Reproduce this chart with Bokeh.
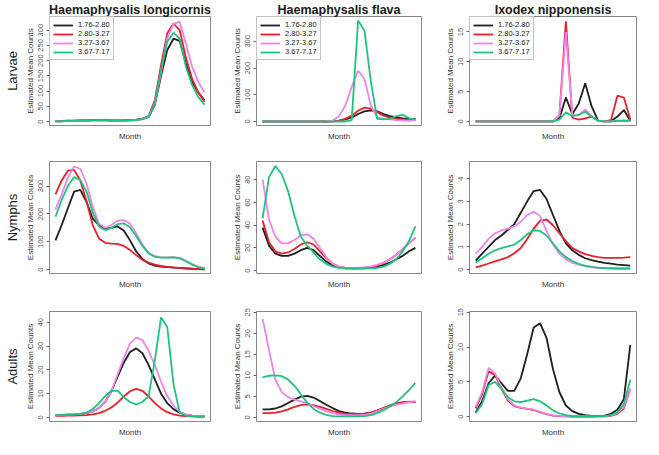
from bokeh.plotting import figure
from bokeh.layouts import column, row
from bokeh.models import Range1d, FixedTicker, Title
from bokeh.embed import file_html
from bokeh.resources import INLINE

# ---------------- data ----------------
MONTH = [1.0, 1.5, 2.0, 2.5, 3.0, 3.5, 4.0, 4.5, 5.0, 5.5, 6.0, 6.5, 7.0,
         7.5, 8.0, 8.5, 9.0, 9.5, 10.0, 10.5, 11.0, 11.5, 12.0, 12.5, 13.0]
GROUPS = ["1.76-2.80", "2.80-3.27", "3.27-3.67", "3.67-7.17"]
SPECIES = ["Haemaphysalis longicornis", "Haemaphysalis flava", "Ixodex nipponensis"]
STAGES = ["Larvae", "Nymphs", "Adults"]

# Larvae - H. longicornis
LAR_HL_1 = [2, 2, 3, 3, 4, 4, 5, 5, 5, 4, 4, 4, 5, 6, 9, 15, 55, 150, 235, 272, 265, 190, 130, 95, 70]
LAR_HL_2 = [1, 1, 2, 2, 3, 3, 4, 4, 4, 3, 3, 3, 4, 5, 9, 18, 70, 185, 290, 322, 300, 210, 140, 95, 65]
LAR_HL_3 = [1, 1, 2, 2, 3, 3, 4, 4, 4, 3, 3, 3, 4, 5, 8, 15, 60, 160, 275, 320, 328, 255, 180, 130, 95]
LAR_HL_4 = [1, 1, 2, 2, 3, 3, 4, 4, 4, 3, 3, 3, 4, 5, 8, 15, 60, 170, 262, 292, 272, 180, 120, 80, 55]
# Larvae - H. flava
LAR_HF_1 = [0, 0, 0, 0, 0, 0, 0, 0, 0, 0, 0, 1, 3, 8, 15, 28, 38, 42, 38, 28, 20, 15, 12, 10, 10]
LAR_HF_2 = [0, 0, 0, 0, 0, 0, 0, 0, 0, 0, 0, 0, 3, 10, 22, 40, 52, 48, 35, 22, 14, 10, 8, 6, 5]
LAR_HF_3 = [0, 0, 0, 0, 0, 0, 0, 0, 0, 0, 1, 3, 20, 60, 130, 190, 160, 60, 15, 10, 8, 5, 4, 3, 5]
LAR_HF_4 = [0, 0, 0, 0, 0, 0, 0, 0, 0, 0, 0, 0, 0, 0, 5, 378, 340, 150, 10, 8, 10, 20, 25, 12, 8]
# Larvae - I. nipponensis
LAR_IN_1 = [0, 0, 0, 0, 0, 0, 0, 0, 0, 0, 0, 0, 0, 0.5, 4.0, 1.2, 3.0, 6.4, 2.5, 0.1, 0, 0, 0.8, 1.9, 0.1]
LAR_IN_2 = [0, 0, 0, 0, 0, 0, 0, 0, 0, 0, 0, 0, 0, 1.0, 16.8, 0.6, 0.3, 0.5, 0.8, 0.1, 0, 0.2, 4.3, 4.0, 0.3]
LAR_IN_3 = [0, 0, 0, 0, 0, 0, 0, 0, 0, 0, 0, 0, 0, 1.0, 15.0, 1.0, 1.0, 2.0, 0.8, 0.1, 0, 0, 0.1, 0.1, 0.1]
LAR_IN_4 = [0, 0, 0, 0, 0, 0, 0, 0, 0, 0, 0, 0, 0, 0.3, 1.5, 0.9, 1.1, 1.6, 0.8, 0.1, 0, 0, 0.1, 0.1, 0.1]

# Nymphs - H. longicornis
NYM_HL_1 = [105, 160, 220, 280, 286, 243, 183, 160, 147, 150, 155, 140, 105, 65, 38, 22, 14, 11, 9, 7, 6, 4, 3, 2, 1]
NYM_HL_2 = [270, 320, 355, 358, 320, 245, 160, 112, 96, 93, 92, 85, 70, 52, 35, 25, 18, 13, 10, 8, 6, 5, 3, 2, 1]
NYM_HL_3 = [215, 270, 330, 370, 362, 310, 225, 165, 150, 160, 175, 178, 165, 130, 90, 60, 48, 44, 44, 45, 42, 32, 20, 10, 5]
NYM_HL_4 = [190, 250, 300, 332, 322, 280, 205, 155, 142, 150, 163, 166, 152, 120, 85, 58, 46, 43, 43, 44, 40, 30, 18, 9, 4]
# Nymphs - H. flava
NYM_HF_1 = [38, 22, 15, 13, 13, 15, 18, 20, 18, 13, 8, 4.5, 3, 2, 2, 2, 2, 2.5, 3.5, 5, 7, 10, 13, 17, 20]
NYM_HF_2 = [44, 25, 17, 15, 16, 19, 23, 25, 23, 17, 11, 6, 3.5, 2.5, 2, 2, 2.5, 3, 4.5, 7, 10, 14, 19, 24, 29]
NYM_HF_3 = [80, 45, 30, 24, 24, 27, 31, 32, 28, 20, 12, 6, 3.5, 2.5, 2.5, 2.5, 3, 3.5, 5, 7, 10, 14, 19, 24, 29]
NYM_HF_4 = [46, 82, 92, 85, 70, 48, 30, 22, 16, 10, 6, 3.5, 2.5, 2, 2, 2, 2, 2, 2.5, 3.5, 6, 10, 17, 26, 39]
# Nymphs - I. nipponensis
NYM_IN_1 = [0.4, 0.7, 1.0, 1.3, 1.5, 1.75, 2.0, 2.5, 3.0, 3.45, 3.5, 3.1, 2.4, 1.7, 1.15, 0.85, 0.65, 0.5, 0.42, 0.35, 0.3, 0.26, 0.22, 0.2, 0.18]
NYM_IN_2 = [0.1, 0.18, 0.27, 0.36, 0.45, 0.55, 0.72, 0.95, 1.35, 1.8, 2.15, 2.2, 1.95, 1.6, 1.25, 0.95, 0.8, 0.68, 0.6, 0.55, 0.52, 0.52, 0.52, 0.53, 0.55]
NYM_IN_3 = [0.7, 1.0, 1.35, 1.6, 1.72, 1.8, 1.9, 2.1, 2.4, 2.55, 2.35, 1.7, 1.1, 0.7, 0.45, 0.3, 0.22, 0.15, 0.1, 0.08, 0.06, 0.05, 0.05, 0.05, 0.05]
NYM_IN_4 = [0.3, 0.5, 0.7, 0.85, 0.95, 1.02, 1.1, 1.3, 1.55, 1.73, 1.7, 1.5, 1.15, 0.8, 0.55, 0.38, 0.25, 0.17, 0.12, 0.09, 0.07, 0.06, 0.05, 0.05, 0.05]

# Adults - H. longicornis
ADU_HL_1 = [1, 1.1, 1.2, 1.3, 1.5, 1.8, 2.5, 4, 6.5, 11, 17, 23, 27.5, 29, 27, 22, 16, 10, 6, 3.5, 2, 1.2, 0.8, 0.6, 0.5]
ADU_HL_2 = [0.7, 0.7, 0.8, 0.8, 0.9, 1.0, 1.3, 1.8, 2.8, 4.2, 6.2, 8.8, 11, 12, 11.2, 8.8, 6, 3.8, 2.2, 1.3, 0.8, 0.6, 0.5, 0.4, 0.4]
ADU_HL_3 = [1, 1.1, 1.2, 1.3, 1.5, 1.8, 2.5, 4, 6.5, 11, 18, 25, 31, 33.5, 32.5, 28, 22, 15, 9, 5, 2.5, 1.3, 0.8, 0.6, 0.5]
ADU_HL_4 = [1, 1.1, 1.2, 1.3, 1.5, 2, 3.5, 6, 9, 11.2, 11.3, 8.5, 6.5, 5.5, 6.5, 9, 24, 42, 38, 14, 2, 0.8, 0.5, 0.4, 0.3]
# Adults - H. flava
ADU_HF_1 = [1.9, 1.9, 2.1, 2.6, 3.4, 4.2, 4.9, 5.1, 4.7, 3.9, 3, 2.2, 1.5, 1.1, 0.9, 0.8, 0.85, 1.1, 1.6, 2.2, 2.8, 3.3, 3.5, 3.6, 3.6]
ADU_HF_2 = [1, 1, 1.1, 1.4, 1.9, 2.5, 2.9, 3.1, 2.9, 2.5, 2, 1.5, 1.1, 0.85, 0.75, 0.75, 0.85, 1.1, 1.6, 2.2, 2.8, 3.3, 3.6, 3.7, 3.7]
ADU_HF_3 = [23.5, 16, 9, 6, 4.8, 4.2, 3.8, 3.4, 2.7, 2, 1.4, 1, 0.7, 0.5, 0.5, 0.5, 0.6, 0.9, 1.4, 2, 2.6, 3, 3.3, 3.6, 3.8]
ADU_HF_4 = [9.5, 9.9, 10, 9.8, 9, 7.5, 5.5, 3.5, 2, 1.1, 0.6, 0.3, 0.2, 0.2, 0.2, 0.2, 0.3, 0.5, 1, 1.7, 2.6, 3.6, 5, 6.5, 8.2]
# Adults - I. nipponensis
ADU_IN_1 = [0.6, 2.2, 4.8, 5.9, 4.8, 3.7, 3.7, 5.5, 9, 12.8, 13.4, 11.3, 6.8, 3.5, 1.6, 0.8, 0.4, 0.2, 0.1, 0.1, 0.15, 0.4, 1.0, 2.5, 10.3]
ADU_IN_2 = [1.2, 3.2, 6.5, 6.0, 4.0, 2.3, 1.5, 1.25, 1.1, 0.95, 0.65, 0.35, 0.15, 0.08, 0.04, 0.02, 0.02, 0.02, 0.02, 0.03, 0.05, 0.12, 0.4, 1.2, 4.0]
ADU_IN_3 = [1.4, 3.5, 7.0, 6.2, 4.2, 2.5, 1.6, 1.3, 1.15, 1.0, 0.7, 0.4, 0.2, 0.1, 0.05, 0.03, 0.02, 0.02, 0.02, 0.03, 0.05, 0.15, 0.5, 1.4, 4.0]
ADU_IN_4 = [0.5, 1.8, 4.5, 5.0, 4.0, 2.8, 2.2, 2.1, 2.3, 2.5, 2.2, 1.6, 0.9, 0.45, 0.2, 0.08, 0.03, 0.02, 0.02, 0.03, 0.06, 0.2, 0.6, 1.8, 5.3]

# y-axis tick labels per panel
YT_LAR = [[0, 50, 100, 150, 200, 250, 300], [0, 100, 200, 300], [0, 5, 10, 15]]
YT_NYM = [[0, 100, 200, 300], [0, 20, 40, 60, 80], [0, 1, 2, 3, 4]]
YT_ADU = [[0, 10, 20, 30, 40], [0, 5, 10, 15, 20, 25], [0, 5, 10, 15]]

PANELS = [
    [[LAR_HL_1, LAR_HL_2, LAR_HL_3, LAR_HL_4], [LAR_HF_1, LAR_HF_2, LAR_HF_3, LAR_HF_4], [LAR_IN_1, LAR_IN_2, LAR_IN_3, LAR_IN_4]],
    [[NYM_HL_1, NYM_HL_2, NYM_HL_3, NYM_HL_4], [NYM_HF_1, NYM_HF_2, NYM_HF_3, NYM_HF_4], [NYM_IN_1, NYM_IN_2, NYM_IN_3, NYM_IN_4]],
    [[ADU_HL_1, ADU_HL_2, ADU_HL_3, ADU_HL_4], [ADU_HF_1, ADU_HF_2, ADU_HF_3, ADU_HF_4], [ADU_IN_1, ADU_IN_2, ADU_IN_3, ADU_IN_4]],
]
YTICKS = [YT_LAR, YT_NYM, YT_ADU]

# ---------------- styling / layout ----------------
COLORS = ["#1e1e1e", "#e8202a", "#ee82ee", "#1dc47c"]
YRANGES = [
    [(-13, 345), (-15, 393), (-0.7, 17.6)],
    [(-14, 388), (-2.5, 96), (-0.17, 4.75)],
    [(-1.7, 44.5), (-1.0, 25.2), (-0.7, 15.1)],
]
WIDTHS = [216, 212, 215]
LEFTS = [43, 40, 41]
RIGHTS = [6, 7, 7]
HEIGHTS = [143, 148, 148]
TOPS = [15, 18, 20]
BOTTOMS = [18, 18, 15]
FONT = "Liberation Sans"

rows = []
for r in range(3):
    figs = []
    for c in range(3):
        p = figure(width=WIDTHS[c], height=HEIGHTS[r], output_backend="svg",
                   toolbar_location=None,
                   x_range=Range1d(0.52, 13.48), y_range=Range1d(*YRANGES[r][c]),
                   min_border_left=LEFTS[c], min_border_right=RIGHTS[c],
                   min_border_top=TOPS[r], min_border_bottom=BOTTOMS[r])
        if r == 0:
            p.title.text = SPECIES[c]
            p.title.align = "center"
            p.title.text_font = FONT
            p.title.text_font_size = "12.5px"
            p.title.text_font_style = "bold"
            p.title.text_color = "#1a1a1a"
            p.title.standoff = 0
        for k in range(4):
            kw = {}
            if r == 0:
                kw["legend_label"] = GROUPS[k]
            p.line(MONTH, PANELS[r][c][k], line_color=COLORS[k], line_width=1.8, **kw)
        if r == 0:
            lg = p.legend[0]
            lg.location = "top_left"
            lg.margin = 0
            lg.padding = 3
            lg.spacing = 0
            lg.label_height = 8
            lg.glyph_height = 8
            lg.glyph_width = 20
            lg.label_standoff = 5
            lg.label_text_font = FONT
            lg.label_text_font_size = "7.5px"
            lg.label_text_line_height = 1.0
            lg.label_text_color = "#222222"
            lg.border_line_color = "#888888"
            lg.background_fill_alpha = 1
        # x axis: only the label
        xa = p.xaxis[0]
        xa.ticker = FixedTicker(ticks=[])
        xa.axis_line_color = None
        xa.major_tick_line_color = None
        xa.minor_tick_line_color = None
        xa.axis_label = "Month"
        xa.axis_label_text_font = FONT
        xa.axis_label_text_font_size = "8px"
        xa.axis_label_text_font_style = "normal"
        xa.axis_label_text_color = "#333333"
        xa.axis_label_standoff = 6
        # y axis
        ya = p.yaxis[0]
        ya.ticker = FixedTicker(ticks=YTICKS[r][c], minor_ticks=[])
        ya.major_label_orientation = "vertical"
        ya.axis_line_color = None
        ya.major_tick_in = 0
        ya.major_tick_out = 3
        ya.major_tick_line_color = "#666666"
        ya.minor_tick_line_color = None
        ya.major_label_text_font = FONT
        ya.major_label_text_font_size = "7.5px"
        ya.major_label_text_color = "#555555"
        ya.major_label_standoff = 3
        ya.axis_label = "Estimated Mean Counts"
        ya.axis_label_text_font = FONT
        ya.axis_label_text_font_size = "8px"
        ya.axis_label_text_font_style = "normal"
        ya.axis_label_text_color = "#333333"
        ya.axis_label_standoff = 1
        p.grid.visible = False
        p.outline_line_color = "#888888"
        p.outline_line_width = 1
        if c == 0:
            p.add_layout(Title(text=STAGES[r], align="center", text_font=FONT,
                               text_font_size="13px", text_font_style="normal",
                               text_color="#1a1a1a", standoff=5), "left")
        figs.append(p)
    rows.append(row(*figs))

layout = column(*rows)
open("out.html", "w").write(file_html(layout, INLINE))
